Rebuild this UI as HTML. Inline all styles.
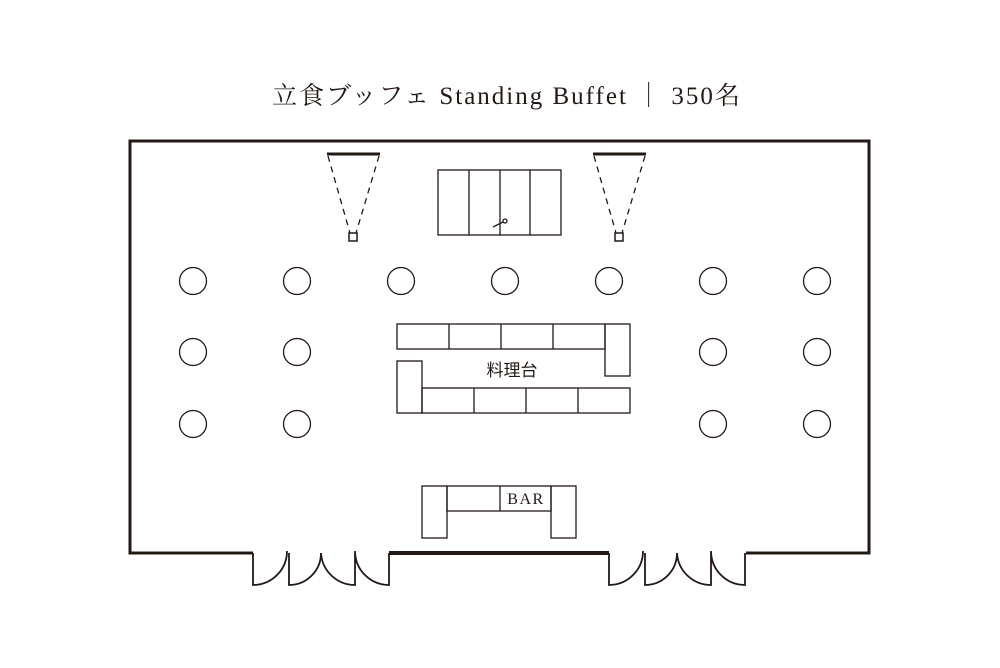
<!DOCTYPE html>
<html><head><meta charset="utf-8"><style>
html,body{margin:0;padding:0;background:#fff;width:1000px;height:668px;overflow:hidden}
</style></head><body>
<svg width="1000" height="668" viewBox="0 0 1000 668" xmlns="http://www.w3.org/2000/svg">
<text x="507" y="104" text-anchor="middle" font-family="Liberation Serif, Noto Serif CJK SC, serif" font-size="25" fill="#231815" letter-spacing="2">立食ブッフェ Standing Buffet ｜ 350名</text>
<g fill="none" stroke="#231815">
<path d="M253 553 H130 V141 H869 V553 H746" stroke-width="3"/>
<path d="M389 553 H609" stroke-width="4"/>
<path d="M253 553 V585 A34 34 0 0 0 287 551 M289 553 V585 A32 32 0 0 0 321 553 A34 34 0 0 0 355 585 V553 M355 551 A34 34 0 0 0 389 585 V553" stroke-width="1.8"/>
<path d="M609 553 V585 A34 34 0 0 0 643 551 M645 553 V585 A32 32 0 0 0 677 553 A34 34 0 0 0 711 585 V553 M711 551 A34 34 0 0 0 745 585 V553" stroke-width="1.8"/>
<path d="M327 154 H380 M593 154 H646" stroke-width="3"/>
<path d="M328 156 L350 233 M379 156 L356 233 M594 156 L616 233 M645 156 L622 233" stroke-width="1.3" stroke-dasharray="6 5"/>
<rect x="349" y="233" width="8" height="8" stroke-width="1.5"/>
<rect x="615" y="233" width="8" height="8" stroke-width="1.5"/>
<g stroke-width="1.3">
<rect x="438" y="170" width="123" height="65"/>
<path d="M469 170V235 M500 170V235 M530 170V235"/>
<path d="M493 227 L503 222"/>
<circle cx="505" cy="221" r="2"/>
</g>
<g stroke-width="1.3">
<circle cx="193" cy="281" r="13.5"/><circle cx="297" cy="281" r="13.5"/><circle cx="401" cy="281" r="13.5"/><circle cx="505" cy="281" r="13.5"/><circle cx="609" cy="281" r="13.5"/><circle cx="713" cy="281" r="13.5"/><circle cx="817" cy="281" r="13.5"/>
<circle cx="193" cy="352" r="13.5"/><circle cx="297" cy="352" r="13.5"/><circle cx="713" cy="352" r="13.5"/><circle cx="817" cy="352" r="13.5"/>
<circle cx="193" cy="424" r="13.5"/><circle cx="297" cy="424" r="13.5"/><circle cx="713" cy="424" r="13.5"/><circle cx="817" cy="424" r="13.5"/>
</g>
<g stroke-width="1.3">
<rect x="397" y="324" width="208" height="25"/>
<path d="M449 324V349 M501 324V349 M553 324V349"/>
<rect x="605" y="324" width="25" height="52"/>
<rect x="397" y="361" width="25" height="52"/>
<rect x="422" y="388" width="208" height="25"/>
<path d="M474 388V413 M526 388V413 M578 388V413"/>
<rect x="422" y="486" width="25" height="52"/>
<rect x="551" y="486" width="25" height="52"/>
<rect x="447" y="486" width="104" height="25"/>
<path d="M500 486V511"/>
</g>
</g>
<text x="512" y="376" text-anchor="middle" font-family="Liberation Sans, Noto Sans CJK JP, sans-serif" font-size="17" fill="#231815">料理台</text>
<text x="526" y="504" text-anchor="middle" font-family="Liberation Serif, serif" font-size="16" fill="#231815" letter-spacing="1.5">BAR</text>
</svg>
</body></html>
